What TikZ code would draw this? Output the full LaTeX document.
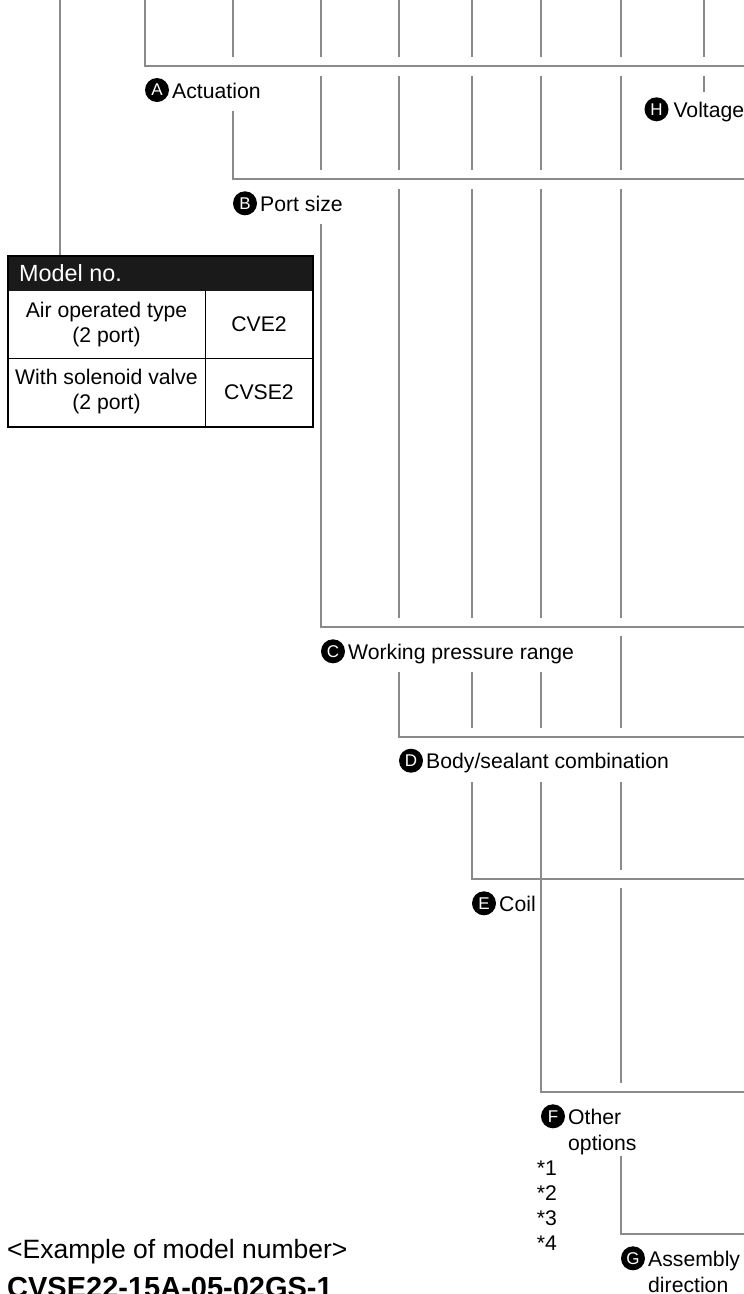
\documentclass[tikz,border=0pt]{standalone}
\usepackage{fontspec}
\setmainfont{Liberation Sans}
\usepackage{tikz}
\usetikzlibrary{positioning}
\definecolor{rulec}{HTML}{8A8A8A}
\definecolor{headc}{HTML}{1A1A1A}
\tikzset{
  rule/.style={draw=rulec, line width=2pt},
  badge/.style={circle, fill=black, text=white, inner sep=0pt, minimum size=24pt,
    font=\fontsize{17}{17}\selectfont},
  lbl/.style={inner sep=0pt, anchor=base west, align=left,
    font=\fontsize{21.2}{26.3}\selectfont},
  twoline/.style={yshift=-26.3pt},
  cell/.style={inner sep=0pt, align=center, font=\fontsize{21.2}{25}\selectfont},
}
% [label opts] x, top of own column, height of bar, letter, name, text
\newcommand{\bracket}[7][]{%
  \draw[rule] (#2,#3) -- (#2,#4) -- (744,#4);
  \node[badge] (b#6) at ({#2+12},{#4+24}) {#5};
  \node[lbl,#1] (#6) at ({#2+27},{#4+32}) {#7};
}

\begin{document}
\begin{tikzpicture}[x=1pt,y=-1pt]
  \useasboundingbox (0,0) rectangle (744,1294);
  % column pieces between the bars
  \foreach \x/\ya/\yb in {233/0/57,
      321/0/57,321/76/170,
      399/0/57,399/76/170,399/189/618,
      472/0/57,472/76/170,472/189/618,472/672/728,
      541/0/57,541/76/170,541/189/618,541/672/728,
      621/0/57,621/76/170,621/189/618,621/636/728,621/782/870,621/888/1083,
      704/0/57,704/76/92}
    {\draw[rule] (\x,\ya) -- (\x,\yb);}
  \bracket{145}{0}{66}{A}{act}{Actuation}
  \bracket{233}{111}{179.3}{B}{port}{Port size}
  \bracket{321}{224}{627.3}{C}{press}{Working pressure range}
  \bracket{399}{672}{736.7}{D}{body}{Body/sealant combination}
  \bracket{472}{782}{879.3}{E}{coil}{Coil}
  \bracket[twoline]{541}{782}{1092.3}{F}{other}{Other\\options}
  \bracket[twoline]{621}{1156}{1234.3}{G}{assy}{Assembly\\direction}
  \node[badge] (bvolt) at (656.5,109.3) {H};
  \node[lbl] (volt) at (673.3,117.3) {Voltage};
  \foreach \k in {1,...,4}
    \node[lbl] (note\k) at (536.7,{1150.3+25*\k}) {*\k};
  % model table
  \fill[headc] (7.3,255) rectangle (312.3,290.7);
  \draw[black, line width=1pt] (7.3,358) -- (312.3,358) (205.7,290.7) -- (205.7,425.7);
  \node[draw=black, line width=2pt, minimum width=305pt, minimum height=170.7pt,
    inner sep=0pt, anchor=north west] (tbl) at (7.3,255) {};
  \coordinate (mtop) at (60,0);
  \draw[rule] (mtop) -- (mtop |- tbl.north);
  \node[lbl, text=white, font=\fontsize{23.4}{26}\selectfont] (model) at (19,281.5) {Model no.};
  \node[cell] (airtype) at (106.5,324.3) {Air operated type\\(2 port)};
  \node[cell] (cve) at (259,324.3) {CVE2};
  \node[cell] (soltype) at (106.5,391.8) {With solenoid valve\\(2 port)};
  \node[cell] (cvse) at (259,391.8) {CVSE2};
  % example
  \node[lbl, font=\fontsize{26.5}{30}\selectfont] (exhead) at (7,1258) {<Example of model number>};
  \node[lbl, font=\fontsize{29}{33}\selectfont\bfseries] (exno) at (7,1297.5) {CVSE22-15A-05-02GS-1};
\end{tikzpicture}
\end{document}
